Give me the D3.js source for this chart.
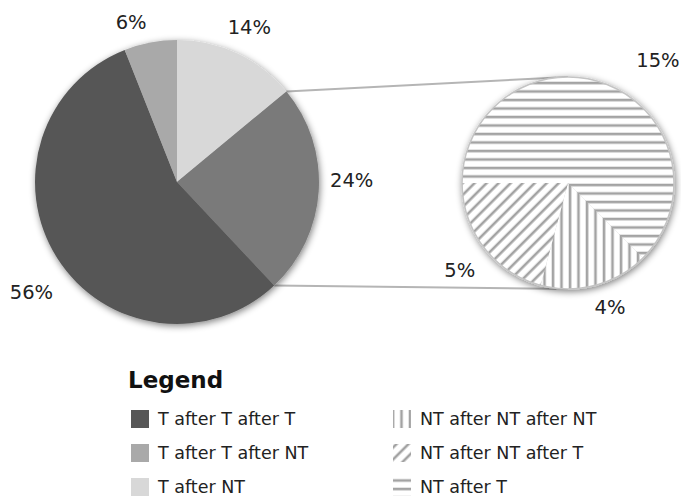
<!DOCTYPE html>
<html>
<head>
<meta charset="utf-8">
<script src="https://cdn.jsdelivr.net/npm/d3@7"></script>
<style>
  body { margin: 0; background: #fff; }
  text { font-family: "DejaVu Sans", sans-serif; fill: #222; }
</style>
</head>
<body>
<svg id="chart" width="681" height="500"></svg>
<script>
// valores del gráfico
const mainCategories = ["T after NT", "Other", "T after T after T", "T after T after NT"];
const mainValues = [14, 24, 56, 6];
const splitCategories = ["NT after T", "NT after NT after NT", "NT after NT after T"];
const splitValues = [15, 4, 5];
const legendLeft = ["T after T after T", "T after T after NT", "T after NT"];
const legendRight = ["NT after NT after NT", "NT after NT after T", "NT after T"];

const svg = d3.select("#chart");
const defs = svg.append("defs");

// sombra suave
const shadow = defs.append("filter").attr("id", "shadow")
    .attr("x", "-20%").attr("y", "-20%").attr("width", "140%").attr("height", "140%");
shadow.append("feGaussianBlur").attr("in", "SourceAlpha").attr("stdDeviation", 3.5);
shadow.append("feOffset").attr("dx", 1).attr("dy", 2).attr("result", "blur");
shadow.append("feComponentTransfer").append("feFuncA").attr("type", "linear").attr("slope", 0.5);
const merge = shadow.append("feMerge");
merge.append("feMergeNode");
merge.append("feMergeNode").attr("in", "SourceGraphic");

// tramas de líneas
function hatch(id, rotate) {
    const p = defs.append("pattern").attr("id", id)
        .attr("patternUnits", "userSpaceOnUse")
        .attr("width", 8.5).attr("height", 8.5)
        .attr("patternTransform", "rotate(" + rotate + ")");
    p.append("rect").attr("width", 8.5).attr("height", 8.5).attr("fill", "#fff");
    p.append("line").attr("x1", 2).attr("y1", 0).attr("x2", 2).attr("y2", 8.5)
        .attr("stroke", "#a3a3a3").attr("stroke-width", 2.6);
}
hatch("hatch-h", 90);
hatch("hatch-v", 0);
hatch("hatch-d", 45);

const fill = d3.scaleOrdinal()
    .domain(mainCategories.concat(splitCategories))
    .range(["#d8d8d8", "#7a7a7a", "#575757", "#a9a9a9",
            "url(#hatch-h)", "url(#hatch-v)", "url(#hatch-d)"]);

// pastel principal
const main = { cx: 177, cy: 182, r: 142 };
const mainPie = d3.pie().sort(null).value(d => d.value);
const mainArcs = mainPie(mainCategories.map((c, i) => ({ cat: c, value: mainValues[i] })));
const arcMain = d3.arc().innerRadius(0).outerRadius(main.r);

// pastel secundario
const split = { cx: 568, cy: 183, r: 106 };
const splitPie = d3.pie().sort(null).value(d => d.value)
    .startAngle(-Math.PI / 2).endAngle(Math.PI * 1.5);
const splitArcs = splitPie(splitCategories.map((c, i) => ({ cat: c, value: splitValues[i] })));
const arcSplit = d3.arc().innerRadius(0).outerRadius(split.r);

// líneas de conexión
const other = mainArcs[1];
const pt = a => [main.cx + main.r * Math.sin(a), main.cy - main.r * Math.cos(a)];
const p1 = pt(other.startAngle), p2 = pt(other.endAngle);
svg.append("g").selectAll("line")
    .data([[p1, [split.cx, split.cy - split.r]], [p2, [split.cx, split.cy + split.r]]])
    .join("line")
    .attr("x1", d => d[0][0]).attr("y1", d => d[0][1])
    .attr("x2", d => d[1][0]).attr("y2", d => d[1][1])
    .attr("stroke", "#b5b5b5").attr("stroke-width", 2);

const gMain = svg.append("g")
    .attr("transform", `translate(${main.cx},${main.cy})`)
    .attr("filter", "url(#shadow)");
gMain.selectAll("path").data(mainArcs).join("path")
    .attr("d", arcMain)
    .attr("fill", d => fill(d.data.cat));

const gSplit = svg.append("g")
    .attr("transform", `translate(${split.cx},${split.cy})`)
    .attr("filter", "url(#shadow)");
gSplit.selectAll("path").data(splitArcs).join("path")
    .attr("d", arcSplit)
    .attr("fill", d => fill(d.data.cat));
gSplit.append("circle").attr("r", split.r)
    .attr("fill", "none").attr("stroke", "#c4c4c4").attr("stroke-width", 1.5);

// etiquetas
const fmt = v => d3.format(".0f")(v) + "%";
const mainNudge = [[0, -1], [5, -12], [-2, 19], [-14, 7]];
const splitNudge = [[44, -12], [11, 9], [-13, 14]];
function labels(arcs, c, rad, nudge) {
    svg.append("g").selectAll("text").data(arcs).join("text")
        .attr("x", (d, i) => c.cx + rad * Math.sin((d.startAngle + d.endAngle) / 2) + nudge[i][0])
        .attr("y", (d, i) => c.cy - rad * Math.cos((d.startAngle + d.endAngle) / 2) + nudge[i][1])
        .attr("text-anchor", "middle")
        .attr("dominant-baseline", "central")
        .attr("font-size", 19.5)
        .text(d => fmt(d.data.value));
}
labels(mainArcs, main, 170, mainNudge);
labels(splitArcs, split, 120, splitNudge);

// leyenda
const legend = svg.append("g");
legend.append("text").attr("x", 128).attr("y", 388)
    .attr("font-family", "Liberation Sans, Arial, sans-serif")
    .attr("font-weight", "bold").attr("font-size", 23).style("fill", "#111")
    .text("Legend");

const rowY = d3.scalePoint().domain([0, 1, 2]).range([419, 487]);
function legendColumn(items, swatchX, textX) {
    const g = legend.append("g").selectAll("g").data(items).join("g")
        .attr("transform", (d, i) => `translate(0,${rowY(i)})`);
    g.append("rect").attr("x", swatchX).attr("y", -9).attr("width", 18).attr("height", 18)
        .attr("fill", d => fill(d));
    g.append("text").attr("x", textX).attr("y", 0)
        .attr("dominant-baseline", "central").attr("font-size", 17.5)
        .text(d => d);
}
legendColumn(legendLeft, 131, 158);
legendColumn(legendRight, 393, 420);
</script>
</body>
</html>
